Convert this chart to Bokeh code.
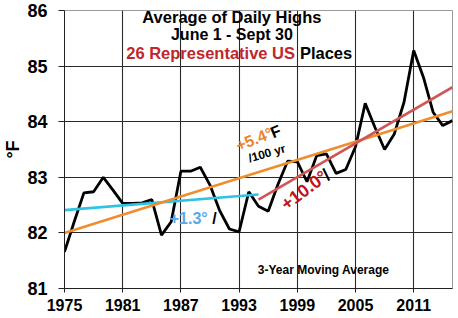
from bokeh.plotting import figure
from bokeh.models import Range1d, FixedTicker, Label
from bokeh.embed import file_html
from bokeh.resources import INLINE

# ---- data ----
years = list(range(1975, 2016))
highs = [81.66, 82.20, 82.72, 82.74, 83.00, 82.77, 82.53, 82.53, 82.54, 82.60,
         81.96, 82.20, 83.11, 83.11, 83.18, 82.86, 82.40, 82.07, 82.02, 82.74,
         82.48, 82.39, 82.87, 83.29, 83.28, 82.92, 83.39, 83.42, 83.07, 83.14,
         83.55, 84.33, 83.90, 83.50, 83.78, 84.35, 85.28, 84.80, 84.17, 83.93,
         84.02]

trend_all_x = [1975, 2015]
trend_all_y = [82.00, 84.19]
trend_early_x = [1975, 1995]
trend_early_y = [82.41, 82.69]
trend_late_x = [1995, 2015]
trend_late_y = [82.60, 84.62]

x_ticks = [1975, 1981, 1987, 1993, 1999, 2005, 2011]
y_ticks = [81, 82, 83, 84, 85, 86]

FONT = "Liberation Sans"

p = figure(width=458, height=318, output_backend="svg", toolbar_location=None,
           x_range=Range1d(1975, 2015), y_range=Range1d(81, 86),
           min_border_left=58, min_border_right=6, min_border_top=10,
           min_border_bottom=30)
p.background_fill_color = "white"
p.border_fill_color = "white"
p.outline_line_color = "#9a9a9a"
p.outline_line_width = 1

# axes
p.xaxis.ticker = FixedTicker(ticks=x_ticks)
p.yaxis.ticker = FixedTicker(ticks=y_ticks)
for ax in (p.xaxis[0], p.yaxis[0]):
    ax.axis_line_color = "#222222"
    ax.major_tick_line_color = "#222222"
    ax.major_tick_in = 0
    ax.minor_tick_line_color = None
    ax.major_label_text_font = FONT
    ax.major_label_text_font_style = "bold"
    ax.major_label_text_color = "black"
p.xaxis.major_tick_out = 4
p.xaxis.major_label_standoff = 6
p.xaxis.major_label_text_font_size = "16px"
p.yaxis.major_tick_out = 6
p.yaxis.major_label_standoff = 11
p.yaxis.major_label_text_font_size = "18px"
p.yaxis.axis_label = "°F"
p.yaxis.axis_label_text_font = FONT
p.yaxis.axis_label_text_font_style = "bold"
p.yaxis.axis_label_text_font_size = "18px"
p.yaxis.axis_label_text_color = "black"
p.yaxis.axis_label_standoff = 1

p.xgrid.ticker = FixedTicker(ticks=x_ticks)
p.ygrid.ticker = FixedTicker(ticks=y_ticks)
for g in (p.xgrid[0], p.ygrid[0]):
    g.grid_line_color = "#2a2a2a"
    g.grid_line_width = 1.1

# series
p.line(years, highs, line_color="black", line_width=2.8)
p.line(trend_early_x, trend_early_y, line_color="#2EC2E4", line_width=2.6)
p.line(trend_all_x, trend_all_y, line_color="#EE8E2E", line_width=2.6)
p.line(trend_late_x, trend_late_y, line_color="#D05656", line_width=2.6)


def px(x):
    return 1975 + (x - 58.3) * 40 / 393.4


def py(y):
    return 86 - (y - 10) * 5 / 278.3


def lab(text, x, y, size, color="black", align="left", baseline="middle", angle=0):
    p.add_layout(Label(x=px(x), y=py(y), text=text, text_font=FONT,
                       text_font_style="bold", text_font_size=size,
                       text_color=color, text_align=align,
                       text_baseline=baseline, angle=angle, angle_units="deg"))


# titles
lab("Average of Daily Highs", 228, 17, "16.5px", align="center")
lab("June 1 - Sept 30", 228, 34, "16px", align="center")
lab("26 Representative US", 292, 53, "16.5px", color="#C0262B", align="right")
lab("Places", 297, 53, "16.5px")
lab("3-Year Moving Average", 321, 270, "12px", align="center")

# trend annotations
lab("+5.4°", 236, 154, "16px", color="#E8872A", baseline="bottom", angle=22)
lab("F", 271, 141, "16px", baseline="bottom", angle=22)
lab("/100 yr", 247, 165, "12px", baseline="bottom", angle=16)
lab("+1.3°", 165, 218, "16px", color="#5AA8E8")
lab("/", 208, 218, "16px")
lab("+10.0°", 286, 214, "18px", color="#C0141C", baseline="bottom", angle=37)
lab("/", 328, 184, "18px", baseline="bottom", angle=37)

open("out.html", "w").write(file_html(p, INLINE))
